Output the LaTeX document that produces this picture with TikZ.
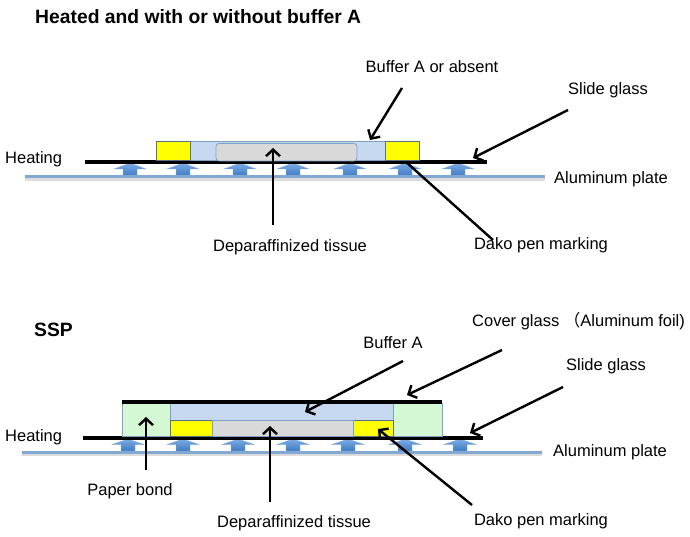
\documentclass[tikz,border=0pt]{standalone}
\usepackage{fontspec}
\setmainfont{Liberation Sans}
\newfontfamily\cjkfont{Noto Sans CJK JP}
\usetikzlibrary{arrows.meta}
\definecolor{bufcol}{RGB}{198,217,241}
\definecolor{edgecol}{RGB}{125,160,200}
\definecolor{tissuecol}{RGB}{217,217,217}
\definecolor{padcol}{RGB}{212,247,212}
\definecolor{penyel}{RGB}{255,255,0}
\definecolor{platecol}{RGB}{130,168,212}
\definecolor{heattop}{RGB}{125,172,228}
\definecolor{heatbot}{RGB}{62,122,196}
\tikzset{
  lbl/.style={font=\fontsize{16.5}{18}\selectfont, inner sep=0pt},
  ttl/.style={font=\fontsize{19.3}{22}\selectfont\bfseries, inner sep=0pt, anchor=west},
  ptr/.style={draw=black, line width=2.4pt, -{Straight Barb[length=6.5pt,width=14pt]}},
  plainptr/.style={draw=black, line width=2.4pt},
  glass/.style={line width=4pt, black},
  plate/.style={line width=3pt, platecol},
  shadowline/.style={line width=3pt, black!30, opacity=0.45},
  buffer/.style={fill=bufcol, draw=edgecol, line width=0.8pt},
  pen/.style={fill=penyel, draw=edgecol!70!black, line width=0.8pt},
  tissue/.style={fill=tissuecol, draw=edgecol, line width=0.8pt, rounded corners=3pt},
  pad/.style={fill=padcol, draw=edgecol, line width=0.8pt},
  heat/.style={top color=heattop, bottom color=heatbot, draw=heatbot!60!white, line width=0.4pt},
}
\begin{document}
\begin{tikzpicture}[x=1pt,y=-1pt]
\useasboundingbox (0,0) rectangle (690,537);
% ================= TOP =================
\node[ttl] (title1) at (35,17) {Heated and with or without buffer A};
% aluminum plate
\draw[shadowline] (25,179.5) -- (545,179.5);
% heat arrows
\foreach \x in {130,183,240,293,350,405,458}{
  \path[heat] (\x,163) -- (\x+16,169) -- (\x+7,169) -- (\x+7,176) -- (\x-7,176) -- (\x-7,169) -- (\x-16,169) -- cycle;
}
\draw[plate] (25,177) -- (545,177);
% slide glass
\draw[glass] (85,162) -- (487,162);
% buffer, pens, tissue
\draw[buffer] (156,141) rectangle (419,160);
\draw[pen] (156,141) rectangle (190,160);
\draw[pen] (385,141) rectangle (419,160);
\draw[tissue] (216,143.5) rectangle (357,161);
% targets
\coordinate (t1buf) at (370,140);
\coordinate (t1slide) at (473,158);
\coordinate (t1tis) at (273,148);
\coordinate (t1pen) at (406,162);
% labels
\node[lbl] (bufA1) at (432,67) {Buffer A or absent};
\node[lbl] (slide1) at (608,90) {Slide glass};
\node[lbl, anchor=west] (heat1) at (5,159) {Heating};
\node[lbl, anchor=west] (alu1) at (554,179) {Aluminum plate};
\node[lbl] (tis1) at (290,247) {Deparaffinized tissue};
\node[lbl] (pen1) at (541,245) {Dako pen marking};
\coordinate (s1buf) at (402,88);
\coordinate (s1slide) at (568,110);
\coordinate (s1tis) at (273,225);
\coordinate (s1pen) at (493,240);
\draw[ptr] (s1buf) -- (t1buf);
\draw[ptr] (s1slide) -- (t1slide);
\draw[ptr] (s1tis) -- (t1tis);
\draw[plainptr] (s1pen) -- (t1pen);
% ================= BOTTOM =================
\node[ttl] (title2) at (34,330) {SSP};
\draw[shadowline] (22,454.5) -- (542,454.5);
\foreach \x in {128,183,238,293,348,405,460}{
  \path[heat] (\x,439) -- (\x+16,444.5) -- (\x+7,444.5) -- (\x+7,451) -- (\x-7,451) -- (\x-7,444.5) -- (\x-16,444.5) -- cycle;
}
\draw[plate] (22,452) -- (542,452);
\draw[glass] (83,438) -- (483,438);
\draw[pad] (122,403) rectangle (170,436.5);
\draw[pad] (393,403) rectangle (442,436.5);
\draw[buffer] (170,403) rectangle (393,420);
\draw[pen] (170,420) rectangle (212,436.5);
\draw[pen] (353,420) rectangle (393,436.5);
\draw[fill=tissuecol, draw=edgecol, line width=0.8pt] (212,420) rectangle (353,436.5);
\draw[glass] (122,402) -- (442,402);
\coordinate (t2cov) at (407,395);
\coordinate (t2buf) at (305,412);
\coordinate (t2slide) at (470,433);
\coordinate (t2pad) at (146,417);
\coordinate (t2tis) at (270,426);
\coordinate (t2pen) at (378,429);
\node[lbl, anchor=west] (cov2) at (472,321) {Cover glass {\cjkfont （}Aluminum foil)};
\node[lbl] (bufA2) at (393,343) {Buffer A};
\node[lbl] (slide2) at (606,366) {Slide glass};
\node[lbl, anchor=west] (heat2) at (5,437) {Heating};
\node[lbl, anchor=west] (alu2) at (553,452) {Aluminum plate};
\node[lbl] (pad2) at (130,491) {Paper bond};
\node[lbl] (tis2) at (294,523) {Deparaffinized tissue};
\node[lbl] (pen2) at (541,521) {Dako pen marking};
\coordinate (s2cov) at (502,350);
\coordinate (s2buf) at (403,361);
\coordinate (s2slide) at (563,387);
\coordinate (s2pad) at (146,470);
\coordinate (s2tis) at (270,502);
\coordinate (s2pen) at (472,505);
\draw[ptr] (s2cov) -- (t2cov);
\draw[ptr] (s2buf) -- (t2buf);
\draw[ptr] (s2slide) -- (t2slide);
\draw[ptr] (s2pad) -- (t2pad);
\draw[ptr] (s2tis) -- (t2tis);
\draw[ptr] (s2pen) -- (t2pen);
\end{tikzpicture}
\end{document}
